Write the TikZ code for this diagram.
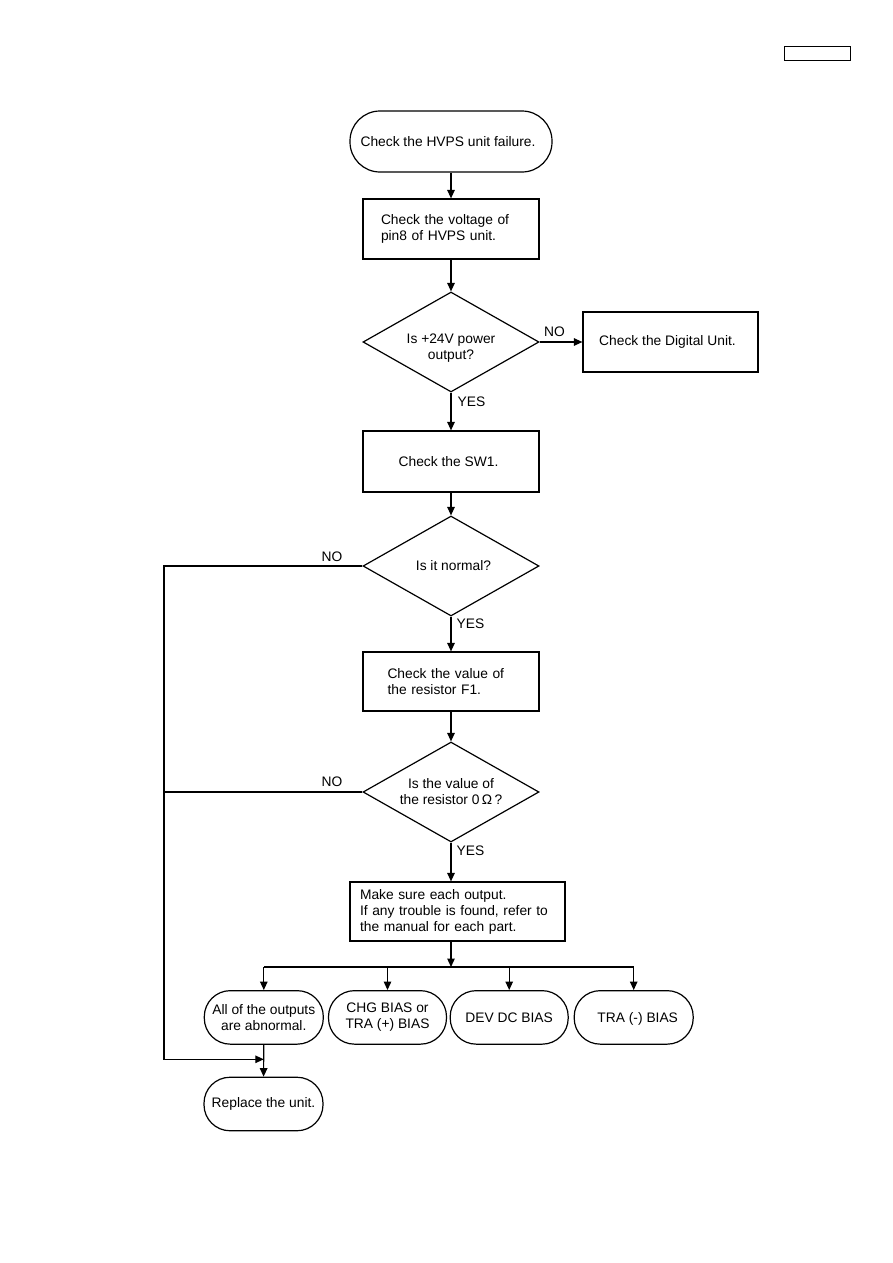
\documentclass[tikz,border=0pt]{standalone}
\usepackage{fontspec}
\setmainfont{Liberation Sans}
\usetikzlibrary{shapes.geometric,arrows.meta}
\begin{document}
\begin{tikzpicture}[x=1pt,y=-1pt,
  every node/.style={font=\fontsize{13.8}{16}\selectfont},
  line/.style={line width=1.2pt},
  arr/.style={line width=1.2pt,-{Triangle[length=8.5pt,width=7.5pt]}},
  term/.style={draw,line width=1.2pt,rectangle,inner sep=0pt,align=center},
  proc/.style={draw,line width=1.2pt,rectangle,inner sep=0pt,align=center,minimum height=60pt},
  procl/.style={draw,line width=1.2pt,rectangle,align=left,inner ysep=0pt},
  dec/.style={draw,line width=1.2pt,diamond,aspect=1.76,inner sep=0pt,minimum width=176pt,minimum height=100pt,align=center},
  lbl/.style={inner sep=0pt}]
\useasboundingbox (0,0) rectangle (893,1263);

\node[draw,line width=0.9pt,minimum width=66pt,minimum height=14pt,inner sep=0pt] (tag) at (817,53) {};

\node[term,rounded corners=30pt,minimum width=202pt,minimum height=61pt] (start) at (451,141.5) {Check the HVPS unit failure.\hspace{6pt}};
\node[procl,minimum width=176pt,minimum height=60pt,text width=140pt,inner xsep=18pt] (volt) at (451,229) {Check the voltage of\\pin8 of HVPS unit.};
\node[dec] (d1) at (451,342) {};
\node[lbl,align=center] (d1t) at (451,348) {Is +24V power\\output?};
\node[proc,minimum width=175pt] (dig) at (670.5,342) {Check the Digital Unit.\hspace{6pt}};
\node[proc,minimum width=176pt,minimum height=61pt] (sw) at (451,461.5) {Check the SW1.\hspace{5pt}};
\node[dec] (d2) at (451,566) {\hspace{5pt}Is it normal?};
\node[procl,minimum width=176pt,minimum height=59pt,text width=127pt,inner xsep=24.5pt] (f1) at (451,681.5) {Check the value of\\the resistor F1.};
\node[dec] (d3) at (451,792) {Is the value of\\the resistor 0\,Ω\,?};
\node[procl,minimum width=215pt,minimum height=59pt,text width=195pt,inner xsep=10pt] (make) at (457.5,911.5) {Make sure each output.\\If any trouble is found, refer to\\the manual for each part.};

\node[term,rounded corners=26pt,minimum width=119pt,minimum height=53.5pt] (all) at (263.8,1017.4) {All of the outputs\\are abnormal.};
\node[term,rounded corners=26pt,minimum width=118pt,minimum height=53.5pt] (chg) at (387.5,1017.4) {CHG BIAS or\\TRA (+) BIAS};
\node[term,rounded corners=26pt,minimum width=118pt,minimum height=53.5pt,text height=10pt,text depth=0pt] (dev) at (509.2,1017.4) {DEV DC BIAS};
\node[term,rounded corners=26pt,minimum width=119pt,minimum height=53.5pt,text height=10pt,text depth=0pt] (tra) at (633.7,1017.4) {\hspace{8pt}TRA (-) BIAS};
\node[term,rounded corners=26pt,minimum width=119pt,minimum height=53.5pt] (rep) at (263.5,1104) {Replace the unit.};

\node[lbl] (no1) at (554.5,332) {NO};
\node[lbl] (yes1) at (471.5,402) {YES};
\node[lbl] (no2) at (332,557) {NO};
\node[lbl] (yes2) at (470.5,624) {YES};
\node[lbl] (no3) at (332,782) {NO};
\node[lbl] (yes3) at (470.5,851) {YES};

\draw[arr] (start) -- (volt);
\draw[arr] (volt) -- (d1);
\draw[arr] (d1) -- (dig);
\draw[arr] (d1) -- (sw);
\draw[arr] (sw) -- (d2);
\draw[arr] (d2) -- (f1);
\draw[arr] (f1) -- (d3);
\draw[arr] (d3.south) -- (d3.south |- make.north);

\coordinate (j) at (451,967);
\draw[arr] (make.south -| d3.south) -- (j);
\draw[line] (all.north |- j) -- (tra.north |- j);
\draw[arr] (all.north |- j) -- (all.north);
\draw[arr] (chg.north |- j) -- (chg.north);
\draw[arr] (dev.north |- j) -- (dev.north);
\draw[arr] (tra.north |- j) -- (tra.north);
\draw[arr] (all) -- (rep);

\coordinate (lt) at (164,566);
\coordinate (lb) at (164,1059.3);
\draw[arr] (d2.west) -- (lt) -- (lb) -- (all.south |- lb);
\draw[line] (d3.west) -- (d3.west -| lt);
\end{tikzpicture}
\end{document}
